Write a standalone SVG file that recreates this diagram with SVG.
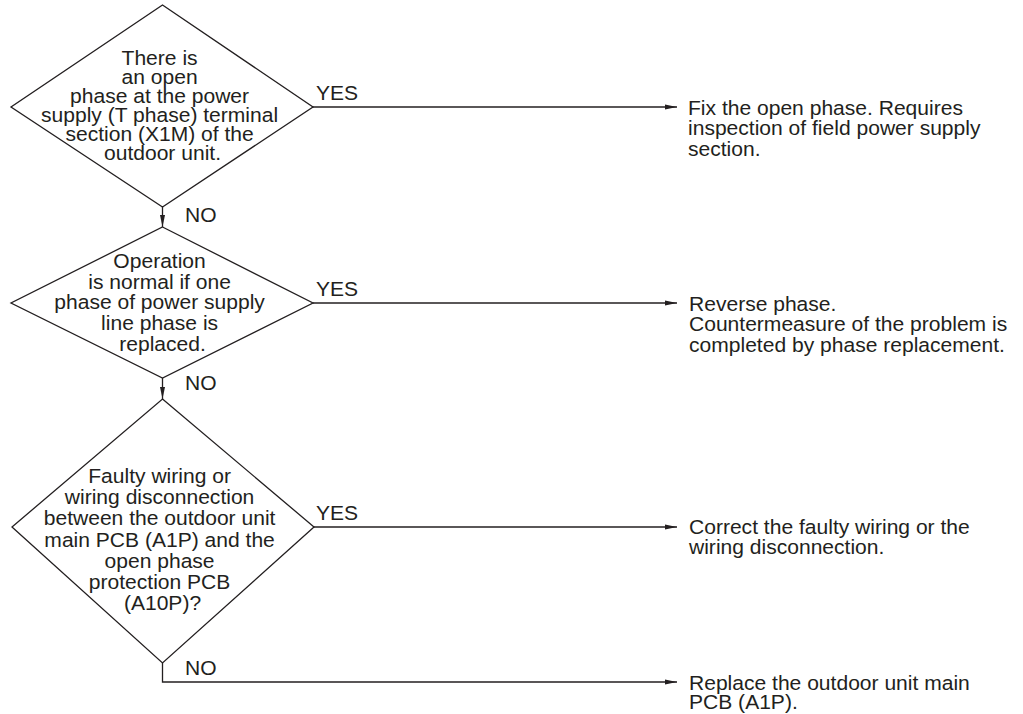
<svg xmlns="http://www.w3.org/2000/svg" width="1023" height="714" viewBox="0 0 1023 714">
  <style>
    .shape { fill: #ffffff; stroke: #231f20; stroke-width: 1.3; }
    .link { fill: none; stroke: #231f20; stroke-width: 1.3; }
    text { font-family: "Liberation Sans", Arial, Helvetica, sans-serif; font-size: 19.5px; fill: #231f20; }
    .mid { text-anchor: middle; }
  </style>
  <defs>
    <marker id="arrow" markerUnits="userSpaceOnUse" markerWidth="13" markerHeight="6" refX="12" refY="3" orient="auto">
      <path d="M0,0.5 L12,3 L0,5.5 Z" fill="#231f20"/>
    </marker>
  </defs>

  <rect width="1023" height="714" fill="#ffffff"/>

  <!-- connectors -->
  <g id="connectors">
    <path class="link" d="M313,107 H677" marker-end="url(#arrow)"/>
    <path class="link" d="M162.5,207 V227" marker-end="url(#arrow)"/>
    <path class="link" d="M313,303 H677" marker-end="url(#arrow)"/>
    <path class="link" d="M162.5,378 V399" marker-end="url(#arrow)"/>
    <path class="link" d="M314,527 H677" marker-end="url(#arrow)"/>
    <path class="link" d="M162.5,663 V682 H677" marker-end="url(#arrow)"/>
    <text transform="translate(316,99.5) scale(1.08,1)">YES</text>
    <text transform="translate(185,222) scale(1.08,1)">NO</text>
    <text transform="translate(316,295.5) scale(1.08,1)">YES</text>
    <text transform="translate(185,390) scale(1.08,1)">NO</text>
    <text transform="translate(316,519.5) scale(1.08,1)">YES</text>
    <text transform="translate(185,675) scale(1.08,1)">NO</text>
  </g>

  <!-- decision 1 -->
  <g id="check-open-phase">
    <polygon class="shape" points="162.5,5 313,107 162.5,207 11,107"/>
    <text class="mid" transform="translate(162.5,64.5) scale(1.08,1)">
      <tspan x="0" y="0">There is</tspan>
      <tspan x="0" y="19.2">an open</tspan>
      <tspan x="0" y="38.4">phase at the power</tspan>
      <tspan x="0" y="57.6">supply (T phase) terminal</tspan>
      <tspan x="0" y="76.8">section (X1M) of the</tspan>
      <tspan x="0" y="96">outdoor unit.</tspan>
    </text>
  </g>

  <!-- decision 2 -->
  <g id="check-phase-swap">
    <polygon class="shape" points="162.5,227 313,303 162.5,378 11,303"/>
    <text class="mid" transform="translate(162.5,268.3) scale(1.08,1)">
      <tspan x="0" y="0">Operation</tspan>
      <tspan x="0" y="20.6">is normal if one</tspan>
      <tspan x="0" y="41.2">phase of power supply</tspan>
      <tspan x="0" y="61.8">line phase is</tspan>
      <tspan x="0" y="82.4">replaced.</tspan>
    </text>
  </g>

  <!-- decision 3 -->
  <g id="check-wiring">
    <polygon class="shape" points="162.5,399 314,527 162.5,663 12,527"/>
    <text class="mid" transform="translate(162.5,482.7) scale(1.08,1)">
      <tspan x="0" y="0">Faulty wiring or</tspan>
      <tspan x="0" y="21.3">wiring disconnection</tspan>
      <tspan x="0" y="42.6">between the outdoor unit</tspan>
      <tspan x="0" y="63.9">main PCB (A1P) and the</tspan>
      <tspan x="0" y="85.2">open phase</tspan>
      <tspan x="0" y="106.5">protection PCB</tspan>
      <tspan x="0" y="127.8">(A10P)?</tspan>
    </text>
  </g>

  <!-- outcomes -->
  <g id="fix-open-phase">
    <text transform="translate(688,115) scale(1.08,1)">
      <tspan x="0" y="0">Fix the open phase. Requires</tspan>
      <tspan x="0" y="20.4">inspection of field power supply</tspan>
      <tspan x="0" y="40.8">section.</tspan>
    </text>
  </g>

  <g id="reverse-phase">
    <text transform="translate(689,310.7) scale(1.08,1)">
      <tspan x="0" y="0">Reverse phase.</tspan>
      <tspan x="0" y="20.5">Countermeasure of the problem is</tspan>
      <tspan x="0" y="41">completed by phase replacement.</tspan>
    </text>
  </g>

  <g id="correct-wiring">
    <text transform="translate(689,534) scale(1.08,1)">
      <tspan x="0" y="0">Correct the faulty wiring or the</tspan>
      <tspan x="0" y="20.5">wiring disconnection.</tspan>
    </text>
  </g>

  <g id="replace-main-pcb">
    <text transform="translate(689,690) scale(1.08,1)">
      <tspan x="0" y="0">Replace the outdoor unit main</tspan>
      <tspan x="0" y="19.5">PCB (A1P).</tspan>
    </text>
  </g>
</svg>
